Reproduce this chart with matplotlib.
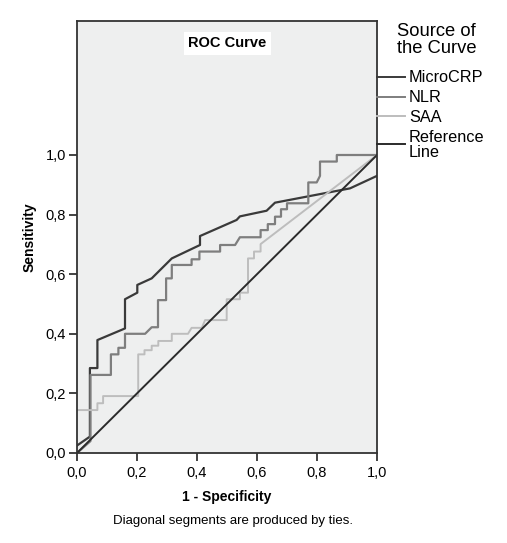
import matplotlib.pyplot as plt
from matplotlib.lines import Line2D

plt.rcParams['font.family'] = ['Liberation Sans', 'DejaVu Sans']

# ROC step points (1 - specificity, sensitivity)
micro_x = [0.0, 0.043, 0.043, 0.068, 0.068, 0.16, 0.16, 0.201, 0.201, 0.249, 0.316, 0.41, 0.41,
           0.532, 0.543, 0.632, 0.66, 0.91, 1.0]
micro_y = [0.025, 0.055, 0.285, 0.285, 0.379, 0.418, 0.516, 0.538, 0.564, 0.586, 0.653, 0.698, 0.728,
           0.782, 0.794, 0.813, 0.84, 0.888, 0.93]

nlr_x = [0.0, 0.045, 0.045, 0.113, 0.113, 0.138, 0.138, 0.16, 0.16, 0.227, 0.249, 0.27, 0.27,
         0.297, 0.297, 0.316, 0.316, 0.382, 0.382, 0.408, 0.408, 0.477, 0.477, 0.527, 0.543, 0.612,
         0.612, 0.636, 0.636, 0.66, 0.66, 0.68, 0.68, 0.70, 0.70, 0.771, 0.771, 0.799, 0.81,
         0.81, 0.866, 0.866, 1.0]
nlr_y = [0.0, 0.04, 0.262, 0.262, 0.331, 0.331, 0.353, 0.353, 0.40, 0.40, 0.422, 0.422, 0.513,
         0.513, 0.586, 0.586, 0.631, 0.631, 0.65, 0.65, 0.676, 0.676, 0.698, 0.698, 0.724, 0.724,
         0.748, 0.748, 0.768, 0.768, 0.793, 0.793, 0.818, 0.818, 0.838, 0.838, 0.908, 0.908, 0.93,
         0.978, 0.978, 1.0, 1.0]

saa_x = [0.0, 0.068, 0.068, 0.087, 0.087, 0.204, 0.204, 0.225, 0.225, 0.249, 0.249, 0.271, 0.271,
         0.316, 0.316, 0.37, 0.382, 0.416, 0.427, 0.499, 0.499, 0.543, 0.543, 0.57, 0.57, 0.59,
         0.59, 0.612, 0.612, 1.0]
saa_y = [0.144, 0.144, 0.167, 0.167, 0.191, 0.191, 0.331, 0.331, 0.345, 0.345, 0.36, 0.36, 0.376,
         0.376, 0.40, 0.40, 0.42, 0.42, 0.446, 0.446, 0.516, 0.516, 0.538, 0.538, 0.653, 0.653,
         0.676, 0.676, 0.701, 1.0]

ref_x = [0.0, 1.0]
ref_y = [0.0, 1.0]

labels = ['MicroCRP', 'NLR', 'SAA', 'Reference\nLine']
colors = ['#3a3a3a', '#7e7e7e', '#bdbdbd', '#2b2b2b']
ticks = [0.0, 0.2, 0.4, 0.6, 0.8, 1.0]
tick_labels = ['0,0', '0,2', '0,4', '0,6', '0,8', '1,0']

fig = plt.figure(figsize=(5.07, 5.43), dpi=100)
ax = fig.add_axes([77 / 507, 1 - 453 / 543, 300 / 507, 432 / 543])
ax.set_facecolor('#eeefef')

ax.plot(micro_x, micro_y, color=colors[0], lw=1.6)
ax.plot(nlr_x, nlr_y, color=colors[1], lw=1.6)
ax.plot(saa_x, saa_y, color=colors[2], lw=1.4)
ax.plot(ref_x, ref_y, color=colors[3], lw=1.4)

ax.set_xlim(0, 1)
ax.set_ylim(0, 432 / 298)
ax.set_xticks(ticks)
ax.set_xticklabels(tick_labels, fontsize=10.5)
ax.set_yticks(ticks)
ax.set_yticklabels(tick_labels, fontsize=10.5)
ax.tick_params(direction='out', length=6, width=1.2, color='#222222', pad=2)
ax.tick_params(axis='x', pad=3.5)
for s in ax.spines.values():
    s.set_linewidth(1.3)
    s.set_color('#333333')

ax.set_xlabel('1 - Specificity', fontsize=10, fontweight='bold', labelpad=7)
ax.set_ylabel('Sensitivity', fontsize=10, fontweight='bold', labelpad=6)
ax.text(0.5, 0.948, 'ROC Curve', transform=ax.transAxes, ha='center', va='center',
        fontsize=10.5, fontweight='bold',
        bbox=dict(facecolor='white', edgecolor='none', boxstyle='square,pad=0.3'))

fig.text(233 / 507, 1 - 521 / 543, 'Diagonal segments are produced by ties.',
         ha='center', va='center', fontsize=9.5)

# legend drawn beside the axes
fig.text(397 / 507, 1 - 40 / 543, 'Source of\nthe Curve', ha='left', va='center',
         fontsize=13.2, linespacing=1.05)
leg_y = [77, 97, 116, 144]
text_y = [77, 97, 117, 145]
for lab, col, ly, ty in zip(labels, colors, leg_y, text_y):
    fig.add_artist(Line2D([377 / 507, 405 / 507], [1 - ly / 543, 1 - ly / 543],
                          color=col, lw=1.4, transform=fig.transFigure))
    fig.text(409 / 507, 1 - ty / 543, lab, ha='left', va='center', fontsize=11.7,
             linespacing=1.05)

fig.savefig('out.png', dpi=100)
